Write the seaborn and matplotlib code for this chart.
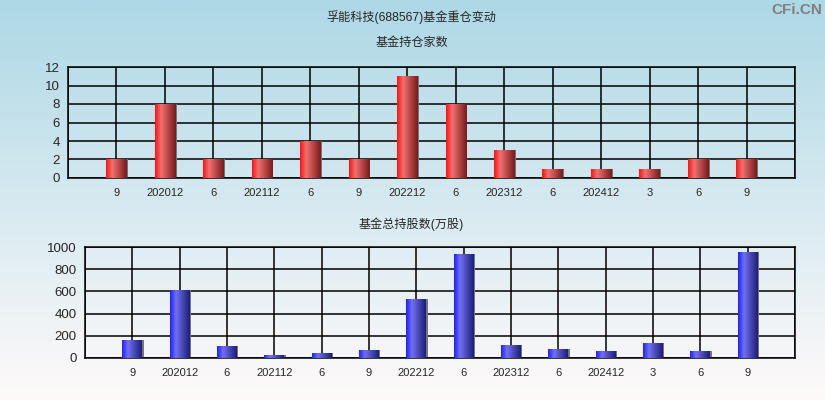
import numpy as np
import pandas as pd
import matplotlib
matplotlib.use('Agg')
import matplotlib.pyplot as plt
import seaborn as sns
from matplotlib.colors import LinearSegmentedColormap
from matplotlib.patches import Rectangle

# data
periods = ['9', '202012', '6', '202112', '6', '9', '202212', '6',
           '202312', '6', '202412', '3', '6', '9']
fund_count = [2, 8, 2, 2, 4, 2, 11, 8, 3, 1, 1, 1, 2, 2]
fund_shares = [164, 612, 110, 23, 47, 74, 531, 935, 119, 83, 65, 137, 65, 953]

title = '孚能科技(688567)基金重仓变动'
sub_top = '基金持仓家数'
sub_bottom = '基金总持股数(万股)'

sns.set_style('white')
plt.rcParams['font.family'] = ['Liberation Sans', 'Noto Sans CJK SC', 'DejaVu Sans']

red_cmap = LinearSegmentedColormap.from_list(
    'red_bar', [(0, '#ff1414'), (0.3, '#f07070'), (1, '#7a1a1a')])
blue_cmap = LinearSegmentedColormap.from_list(
    'blue_bar', [(0, '#2020ff'), (0.3, '#7070f0'), (1, '#1e1e78')])


def shade_bars(ax, cmap):
    """Replace flat bar fills with a horizontal gradient (cylinder look)"""
    grad = np.linspace(0, 1, 64).reshape(1, -1)
    for p in list(ax.patches):
        x0, y0 = p.get_x(), p.get_y()
        w, h = p.get_width(), p.get_height()
        if h <= 0:
            continue
        ax.add_patch(Rectangle((x0 + w, y0), w * 0.07, h, facecolor='#6e7880',
                               edgecolor='none', zorder=2))
        im = ax.imshow(grad, cmap=cmap, aspect='auto', zorder=3,
                       extent=(x0, x0 + w, y0, y0 + h))
        im.set_clip_path(p)
        p.set_facecolor('none')
        p.set_edgecolor('none')


def style_axes(ax, ymax, yticks):
    n = len(periods)
    ax.set_facecolor('none')
    ax.set_xlim(-1, n)
    ax.set_ylim(0, ymax)
    ax.set_xticks(range(-1, n + 1))
    ax.set_xticklabels([''] + periods + [''], fontsize=8)
    ax.set_yticks(yticks)
    ax.set_yticklabels([str(v) for v in yticks], fontsize=9.5)
    ax.grid(True, color='black', linewidth=1.1)
    ax.set_axisbelow(True)
    ax.tick_params(axis='both', direction='out', length=4, width=1,
                   color='black', pad=2)
    ax.tick_params(axis='x', pad=3)
    for s in ax.spines.values():
        s.set_color('black')
        s.set_linewidth(1.1)
        s.set_visible(True)
    ax.set_xlabel('')
    ax.set_ylabel('')


fig = plt.figure(figsize=(8.25, 4), dpi=100)

# gradient background
bg = fig.add_axes([0, 0, 1, 1], zorder=-10)
bg_grad = LinearSegmentedColormap.from_list('bg', ['#fffafa', '#add8e6'])
bg.imshow(np.linspace(0, 1, 256).reshape(-1, 1)[::-1], cmap=bg_grad,
          aspect='auto', extent=(0, 1, 0, 1))
bg.set_axis_off()

df = pd.DataFrame({'pos': range(len(periods)), 'count': fund_count,
                   'shares': fund_shares})

ax1 = fig.add_axes([0.0824, 0.555, 0.8812, 0.2775])
sns.barplot(data=df, x='pos', y='count', width=0.42, color='red', ax=ax1,
            zorder=3)
shade_bars(ax1, red_cmap)
style_axes(ax1, 12, list(range(0, 13, 2)))

ax2 = fig.add_axes([0.103, 0.105, 0.8606, 0.2775])
sns.barplot(data=df, x='pos', y='shares', width=0.42, color='blue', ax=ax2,
            zorder=3)
shade_bars(ax2, blue_cmap)
style_axes(ax2, 1000, list(range(0, 1001, 200)))

fig.text(0.4988, 1 - 17.5 / 400, title, ha='center', va='center', fontsize=8.7)
fig.text(0.4988, 1 - 43 / 400, sub_top, ha='center', va='center', fontsize=8.7)
fig.text(0.4988, 1 - 224 / 400, sub_bottom, ha='center', va='center',
         fontsize=8.7)
fig.text(822 / 825, 1 - 10 / 400, 'CFi.CN', ha='right', va='center',
         fontsize=11, fontweight='bold', color='#808080')

fig.savefig('out.png', dpi=100)
plt.close(fig)
